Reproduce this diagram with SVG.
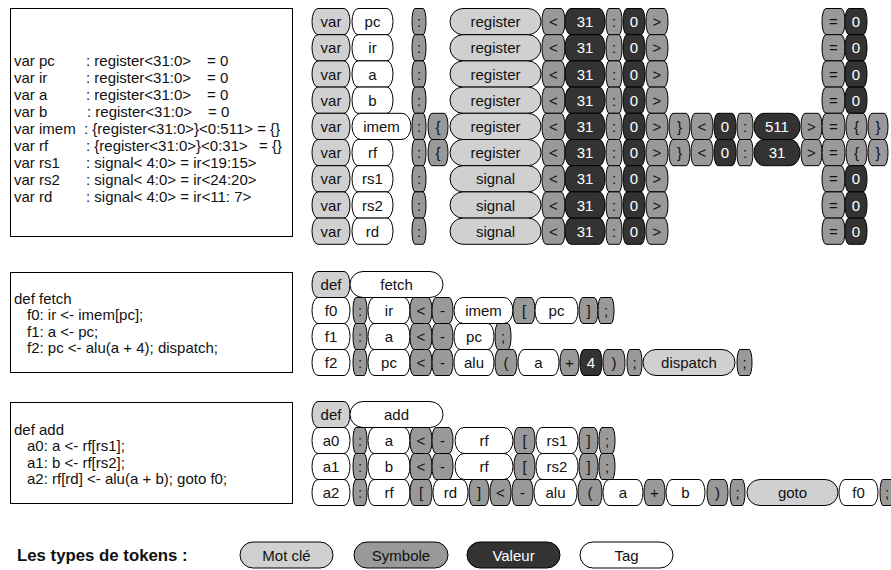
<svg xmlns="http://www.w3.org/2000/svg" width="891" height="570" viewBox="0 0 891 570">
<style>
rect{stroke:#000;stroke-width:1}
.box{fill:#fff}
.k{fill:#d0d0d0}
.s{fill:#999}
.v{fill:#333}
.t{fill:#fff}
text{font-family:"Liberation Sans",Arial,sans-serif;font-size:15px;fill:#111}
.c{text-anchor:middle;dominant-baseline:central}
.w{fill:#fff}
.code{dominant-baseline:central}
.lg{font-weight:bold;font-size:16.8px}
</style>
<g id="box-vars">
<rect class="box" x="10.5" y="8.5" width="282" height="228"/>
<g class="code">
<text class="code" x="14" y="60">var pc</text><text class="code" x="86" y="60">: register&lt;31:0&gt;</text><text class="code" x="207" y="60">= 0</text>
<text class="code" x="14" y="77">var ir</text><text class="code" x="86" y="77">: register&lt;31:0&gt;</text><text class="code" x="207" y="77">= 0</text>
<text class="code" x="14" y="94">var a</text><text class="code" x="86" y="94">: register&lt;31:0&gt;</text><text class="code" x="207" y="94">= 0</text>
<text class="code" x="14" y="111">var b</text><text class="code" x="87" y="111">: register&lt;31:0&gt;</text><text class="code" x="208" y="111">= 0</text>
<text class="code" x="14" y="128">var imem</text><text class="code" x="84" y="128">: {register&lt;31:0&gt;}&lt;0:511&gt; = {}</text>
<text class="code" x="14" y="145">var rf</text><text class="code" x="86" y="145">: {register&lt;31:0&gt;}&lt;0:31&gt;</text><text class="code" x="259" y="145">= {}</text>
<text class="code" x="14" y="162">var rs1</text><text class="code" x="86" y="162">: signal&lt; 4:0&gt; = ir&lt;19:15&gt;</text>
<text class="code" x="14" y="179">var rs2</text><text class="code" x="86" y="179">: signal&lt; 4:0&gt; = ir&lt;24:20&gt;</text>
<text class="code" x="14" y="196">var rd</text><text class="code" x="86" y="196">: signal&lt; 4:0&gt; = ir&lt;11: 7&gt;</text>
</g>
</g>
<g id="box-fetch">
<rect class="box" x="10.5" y="272.5" width="282" height="100"/>
<text class="code" x="14" y="298">def fetch</text>
<text class="code" x="27" y="314.5">f0: ir &lt;- imem[pc];</text>
<text class="code" x="27" y="331">f1: a &lt;- pc;</text>
<text class="code" x="27" y="347.5">f2: pc &lt;- alu(a + 4); dispatch;</text>
</g>
<g id="box-add">
<rect class="box" x="10.5" y="402.5" width="282" height="101"/>
<text class="code" x="14" y="429">def add</text>
<text class="code" x="27" y="445.5">a0: a &lt;- rf[rs1];</text>
<text class="code" x="27" y="462">a1: b &lt;- rf[rs2];</text>
<text class="code" x="27" y="478.5">a2: rf[rd] &lt;- alu(a + b); goto f0;</text>
</g>

<!-- var rows -->
<g id="vr0">
<g id="vr0-var"><rect class="k" x="312" y="8.5" width="38" height="26.2" rx="6" ry="13.1"/><text class="c" x="331" y="21.6">var</text></g>
<g id="vr0-pc"><rect class="t" x="352" y="8.5" width="41" height="26.2" rx="6" ry="13.1"/><text class="c" x="372.5" y="21.6">pc</text></g>
<g id="vr0-colon"><rect class="s" x="412" y="8.5" width="14" height="26.2" rx="3" ry="13.1"/><text class="c" x="419" y="21.6">:</text></g>
<g id="vr0-register"><rect class="k" x="450" y="8.5" width="91" height="26.2" rx="13" ry="13.1"/><text class="c" x="495.5" y="21.6">register</text></g>
<g id="vr0-lt"><rect class="s" x="542" y="8.5" width="23" height="26.2" rx="4" ry="13.1"/><text class="c" x="553.5" y="21.6">&lt;</text></g>
<g id="vr0-31"><rect class="v" x="565" y="8.5" width="40" height="26.2" rx="6" ry="13.1"/><text class="c w" x="585" y="21.6">31</text></g>
<g id="vr0-colon2"><rect class="s" x="606" y="8.5" width="16" height="26.2" rx="3" ry="13.1"/><text class="c" x="614" y="21.6">:</text></g>
<g id="vr0-0"><rect class="v" x="623" y="8.5" width="22" height="26.2" rx="4" ry="13.1"/><text class="c w" x="634" y="21.6">0</text></g>
<g id="vr0-gt"><rect class="s" x="646" y="8.5" width="22" height="26.2" rx="4" ry="13.1"/><text class="c" x="657" y="21.6">&gt;</text></g>
<g id="vr0-eq"><rect class="s" x="822" y="8.5" width="23" height="26.2" rx="4" ry="13.1"/><text class="c" x="833.5" y="21.6">=</text></g>
<g id="vr0-init"><rect class="v" x="845" y="8.5" width="22" height="26.2" rx="4" ry="13.1"/><text class="c w" x="856" y="21.6">0</text></g>
</g>
<g id="vr1">
<g id="vr1-var"><rect class="k" x="312" y="34.7" width="38" height="26.2" rx="6" ry="13.1"/><text class="c" x="331" y="47.8">var</text></g>
<g id="vr1-ir"><rect class="t" x="352" y="34.7" width="41" height="26.2" rx="6" ry="13.1"/><text class="c" x="372.5" y="47.8">ir</text></g>
<g id="vr1-colon"><rect class="s" x="412" y="34.7" width="14" height="26.2" rx="3" ry="13.1"/><text class="c" x="419" y="47.8">:</text></g>
<g id="vr1-register"><rect class="k" x="450" y="34.7" width="91" height="26.2" rx="13" ry="13.1"/><text class="c" x="495.5" y="47.8">register</text></g>
<g id="vr1-lt"><rect class="s" x="542" y="34.7" width="23" height="26.2" rx="4" ry="13.1"/><text class="c" x="553.5" y="47.8">&lt;</text></g>
<g id="vr1-31"><rect class="v" x="565" y="34.7" width="40" height="26.2" rx="6" ry="13.1"/><text class="c w" x="585" y="47.8">31</text></g>
<g id="vr1-colon2"><rect class="s" x="606" y="34.7" width="16" height="26.2" rx="3" ry="13.1"/><text class="c" x="614" y="47.8">:</text></g>
<g id="vr1-0"><rect class="v" x="623" y="34.7" width="22" height="26.2" rx="4" ry="13.1"/><text class="c w" x="634" y="47.8">0</text></g>
<g id="vr1-gt"><rect class="s" x="646" y="34.7" width="22" height="26.2" rx="4" ry="13.1"/><text class="c" x="657" y="47.8">&gt;</text></g>
<g id="vr1-eq"><rect class="s" x="822" y="34.7" width="23" height="26.2" rx="4" ry="13.1"/><text class="c" x="833.5" y="47.8">=</text></g>
<g id="vr1-init"><rect class="v" x="845" y="34.7" width="22" height="26.2" rx="4" ry="13.1"/><text class="c w" x="856" y="47.8">0</text></g>
</g>
<g id="vr2">
<g id="vr2-var"><rect class="k" x="312" y="60.9" width="38" height="26.2" rx="6" ry="13.1"/><text class="c" x="331" y="74">var</text></g>
<g id="vr2-a"><rect class="t" x="352" y="60.9" width="41" height="26.2" rx="6" ry="13.1"/><text class="c" x="372.5" y="74">a</text></g>
<g id="vr2-colon"><rect class="s" x="412" y="60.9" width="14" height="26.2" rx="3" ry="13.1"/><text class="c" x="419" y="74">:</text></g>
<g id="vr2-register"><rect class="k" x="450" y="60.9" width="91" height="26.2" rx="13" ry="13.1"/><text class="c" x="495.5" y="74">register</text></g>
<g id="vr2-lt"><rect class="s" x="542" y="60.9" width="23" height="26.2" rx="4" ry="13.1"/><text class="c" x="553.5" y="74">&lt;</text></g>
<g id="vr2-31"><rect class="v" x="565" y="60.9" width="40" height="26.2" rx="6" ry="13.1"/><text class="c w" x="585" y="74">31</text></g>
<g id="vr2-colon2"><rect class="s" x="606" y="60.9" width="16" height="26.2" rx="3" ry="13.1"/><text class="c" x="614" y="74">:</text></g>
<g id="vr2-0"><rect class="v" x="623" y="60.9" width="22" height="26.2" rx="4" ry="13.1"/><text class="c w" x="634" y="74">0</text></g>
<g id="vr2-gt"><rect class="s" x="646" y="60.9" width="22" height="26.2" rx="4" ry="13.1"/><text class="c" x="657" y="74">&gt;</text></g>
<g id="vr2-eq"><rect class="s" x="822" y="60.9" width="23" height="26.2" rx="4" ry="13.1"/><text class="c" x="833.5" y="74">=</text></g>
<g id="vr2-init"><rect class="v" x="845" y="60.9" width="22" height="26.2" rx="4" ry="13.1"/><text class="c w" x="856" y="74">0</text></g>
</g>
<g id="vr3">
<g id="vr3-var"><rect class="k" x="312" y="87.1" width="38" height="26.2" rx="6" ry="13.1"/><text class="c" x="331" y="100.2">var</text></g>
<g id="vr3-b"><rect class="t" x="352" y="87.1" width="41" height="26.2" rx="6" ry="13.1"/><text class="c" x="372.5" y="100.2">b</text></g>
<g id="vr3-colon"><rect class="s" x="412" y="87.1" width="14" height="26.2" rx="3" ry="13.1"/><text class="c" x="419" y="100.2">:</text></g>
<g id="vr3-register"><rect class="k" x="450" y="87.1" width="91" height="26.2" rx="13" ry="13.1"/><text class="c" x="495.5" y="100.2">register</text></g>
<g id="vr3-lt"><rect class="s" x="542" y="87.1" width="23" height="26.2" rx="4" ry="13.1"/><text class="c" x="553.5" y="100.2">&lt;</text></g>
<g id="vr3-31"><rect class="v" x="565" y="87.1" width="40" height="26.2" rx="6" ry="13.1"/><text class="c w" x="585" y="100.2">31</text></g>
<g id="vr3-colon2"><rect class="s" x="606" y="87.1" width="16" height="26.2" rx="3" ry="13.1"/><text class="c" x="614" y="100.2">:</text></g>
<g id="vr3-0"><rect class="v" x="623" y="87.1" width="22" height="26.2" rx="4" ry="13.1"/><text class="c w" x="634" y="100.2">0</text></g>
<g id="vr3-gt"><rect class="s" x="646" y="87.1" width="22" height="26.2" rx="4" ry="13.1"/><text class="c" x="657" y="100.2">&gt;</text></g>
<g id="vr3-eq"><rect class="s" x="822" y="87.1" width="23" height="26.2" rx="4" ry="13.1"/><text class="c" x="833.5" y="100.2">=</text></g>
<g id="vr3-init"><rect class="v" x="845" y="87.1" width="22" height="26.2" rx="4" ry="13.1"/><text class="c w" x="856" y="100.2">0</text></g>
</g>
<g id="vr4">
<g id="vr4-var"><rect class="k" x="312" y="113.3" width="38" height="26.2" rx="6" ry="13.1"/><text class="c" x="331" y="126.4">var</text></g>
<g id="vr4-imem"><rect class="t" x="352" y="113.3" width="59" height="26.2" rx="9" ry="13.1"/><text class="c" x="381.5" y="126.4">imem</text></g>
<g id="vr4-colon"><rect class="s" x="412" y="113.3" width="14" height="26.2" rx="3" ry="13.1"/><text class="c" x="419" y="126.4">:</text></g>
<g id="vr4-lbrace"><rect class="s" x="428" y="113.3" width="20" height="26.2" rx="4" ry="13.1"/><text class="c" x="438" y="126.4">{</text></g>
<g id="vr4-register"><rect class="k" x="450" y="113.3" width="91" height="26.2" rx="13" ry="13.1"/><text class="c" x="495.5" y="126.4">register</text></g>
<g id="vr4-lt"><rect class="s" x="542" y="113.3" width="23" height="26.2" rx="4" ry="13.1"/><text class="c" x="553.5" y="126.4">&lt;</text></g>
<g id="vr4-31"><rect class="v" x="565" y="113.3" width="40" height="26.2" rx="6" ry="13.1"/><text class="c w" x="585" y="126.4">31</text></g>
<g id="vr4-colon2"><rect class="s" x="606" y="113.3" width="16" height="26.2" rx="3" ry="13.1"/><text class="c" x="614" y="126.4">:</text></g>
<g id="vr4-0"><rect class="v" x="623" y="113.3" width="22" height="26.2" rx="4" ry="13.1"/><text class="c w" x="634" y="126.4">0</text></g>
<g id="vr4-gt"><rect class="s" x="646" y="113.3" width="22" height="26.2" rx="4" ry="13.1"/><text class="c" x="657" y="126.4">&gt;</text></g>
<g id="vr4-rbrace"><rect class="s" x="669" y="113.3" width="21" height="26.2" rx="4" ry="13.1"/><text class="c" x="679.5" y="126.4">}</text></g>
<g id="vr4-lt2"><rect class="s" x="691" y="113.3" width="22" height="26.2" rx="4" ry="13.1"/><text class="c" x="702" y="126.4">&lt;</text></g>
<g id="vr4-lo"><rect class="v" x="714" y="113.3" width="22" height="26.2" rx="4" ry="13.1"/><text class="c w" x="725" y="126.4">0</text></g>
<g id="vr4-colon3"><rect class="s" x="737" y="113.3" width="16" height="26.2" rx="3" ry="13.1"/><text class="c" x="745" y="126.4">:</text></g>
<g id="vr4-511"><rect class="v" x="754" y="113.3" width="46" height="26.2" rx="10" ry="13.1"/><text class="c w" x="777" y="126.4">511</text></g>
<g id="vr4-gt2"><rect class="s" x="801" y="113.3" width="21" height="26.2" rx="4" ry="13.1"/><text class="c" x="811.5" y="126.4">&gt;</text></g>
<g id="vr4-eq"><rect class="s" x="822" y="113.3" width="23" height="26.2" rx="4" ry="13.1"/><text class="c" x="833.5" y="126.4">=</text></g>
<g id="vr4-lb2"><rect class="s" x="846" y="113.3" width="21" height="26.2" rx="4" ry="13.1"/><text class="c" x="856.5" y="126.4">{</text></g>
<g id="vr4-rb2"><rect class="s" x="868" y="113.3" width="20" height="26.2" rx="4" ry="13.1"/><text class="c" x="878" y="126.4">}</text></g>
</g>
<g id="vr5">
<g id="vr5-var"><rect class="k" x="312" y="139.5" width="38" height="26.2" rx="6" ry="13.1"/><text class="c" x="331" y="152.6">var</text></g>
<g id="vr5-rf"><rect class="t" x="352" y="139.5" width="41" height="26.2" rx="6" ry="13.1"/><text class="c" x="372.5" y="152.6">rf</text></g>
<g id="vr5-colon"><rect class="s" x="412" y="139.5" width="14" height="26.2" rx="3" ry="13.1"/><text class="c" x="419" y="152.6">:</text></g>
<g id="vr5-lbrace"><rect class="s" x="428" y="139.5" width="20" height="26.2" rx="4" ry="13.1"/><text class="c" x="438" y="152.6">{</text></g>
<g id="vr5-register"><rect class="k" x="450" y="139.5" width="91" height="26.2" rx="13" ry="13.1"/><text class="c" x="495.5" y="152.6">register</text></g>
<g id="vr5-lt"><rect class="s" x="542" y="139.5" width="23" height="26.2" rx="4" ry="13.1"/><text class="c" x="553.5" y="152.6">&lt;</text></g>
<g id="vr5-31"><rect class="v" x="565" y="139.5" width="40" height="26.2" rx="6" ry="13.1"/><text class="c w" x="585" y="152.6">31</text></g>
<g id="vr5-colon2"><rect class="s" x="606" y="139.5" width="16" height="26.2" rx="3" ry="13.1"/><text class="c" x="614" y="152.6">:</text></g>
<g id="vr5-0"><rect class="v" x="623" y="139.5" width="22" height="26.2" rx="4" ry="13.1"/><text class="c w" x="634" y="152.6">0</text></g>
<g id="vr5-gt"><rect class="s" x="646" y="139.5" width="22" height="26.2" rx="4" ry="13.1"/><text class="c" x="657" y="152.6">&gt;</text></g>
<g id="vr5-rbrace"><rect class="s" x="669" y="139.5" width="21" height="26.2" rx="4" ry="13.1"/><text class="c" x="679.5" y="152.6">}</text></g>
<g id="vr5-lt2"><rect class="s" x="691" y="139.5" width="22" height="26.2" rx="4" ry="13.1"/><text class="c" x="702" y="152.6">&lt;</text></g>
<g id="vr5-lo"><rect class="v" x="714" y="139.5" width="22" height="26.2" rx="4" ry="13.1"/><text class="c w" x="725" y="152.6">0</text></g>
<g id="vr5-colon3"><rect class="s" x="737" y="139.5" width="16" height="26.2" rx="3" ry="13.1"/><text class="c" x="745" y="152.6">:</text></g>
<g id="vr5-hi"><rect class="v" x="754" y="139.5" width="46" height="26.2" rx="10" ry="13.1"/><text class="c w" x="777" y="152.6">31</text></g>
<g id="vr5-gt2"><rect class="s" x="801" y="139.5" width="21" height="26.2" rx="4" ry="13.1"/><text class="c" x="811.5" y="152.6">&gt;</text></g>
<g id="vr5-eq"><rect class="s" x="822" y="139.5" width="23" height="26.2" rx="4" ry="13.1"/><text class="c" x="833.5" y="152.6">=</text></g>
<g id="vr5-lb2"><rect class="s" x="846" y="139.5" width="21" height="26.2" rx="4" ry="13.1"/><text class="c" x="856.5" y="152.6">{</text></g>
<g id="vr5-rb2"><rect class="s" x="868" y="139.5" width="20" height="26.2" rx="4" ry="13.1"/><text class="c" x="878" y="152.6">}</text></g>
</g>
<g id="vr6">
<g id="vr6-var"><rect class="k" x="312" y="165.7" width="38" height="26.2" rx="6" ry="13.1"/><text class="c" x="331" y="178.8">var</text></g>
<g id="vr6-rs1"><rect class="t" x="352" y="165.7" width="41" height="26.2" rx="6" ry="13.1"/><text class="c" x="372.5" y="178.8">rs1</text></g>
<g id="vr6-colon"><rect class="s" x="412" y="165.7" width="14" height="26.2" rx="3" ry="13.1"/><text class="c" x="419" y="178.8">:</text></g>
<g id="vr6-signal"><rect class="k" x="450" y="165.7" width="91" height="26.2" rx="13" ry="13.1"/><text class="c" x="495.5" y="178.8">signal</text></g>
<g id="vr6-lt"><rect class="s" x="542" y="165.7" width="23" height="26.2" rx="4" ry="13.1"/><text class="c" x="553.5" y="178.8">&lt;</text></g>
<g id="vr6-31"><rect class="v" x="565" y="165.7" width="40" height="26.2" rx="6" ry="13.1"/><text class="c w" x="585" y="178.8">31</text></g>
<g id="vr6-colon2"><rect class="s" x="606" y="165.7" width="16" height="26.2" rx="3" ry="13.1"/><text class="c" x="614" y="178.8">:</text></g>
<g id="vr6-0"><rect class="v" x="623" y="165.7" width="22" height="26.2" rx="4" ry="13.1"/><text class="c w" x="634" y="178.8">0</text></g>
<g id="vr6-gt"><rect class="s" x="646" y="165.7" width="22" height="26.2" rx="4" ry="13.1"/><text class="c" x="657" y="178.8">&gt;</text></g>
<g id="vr6-eq"><rect class="s" x="822" y="165.7" width="23" height="26.2" rx="4" ry="13.1"/><text class="c" x="833.5" y="178.8">=</text></g>
<g id="vr6-init"><rect class="v" x="845" y="165.7" width="22" height="26.2" rx="4" ry="13.1"/><text class="c w" x="856" y="178.8">0</text></g>
</g>
<g id="vr7">
<g id="vr7-var"><rect class="k" x="312" y="191.9" width="38" height="26.2" rx="6" ry="13.1"/><text class="c" x="331" y="205">var</text></g>
<g id="vr7-rs2"><rect class="t" x="352" y="191.9" width="41" height="26.2" rx="6" ry="13.1"/><text class="c" x="372.5" y="205">rs2</text></g>
<g id="vr7-colon"><rect class="s" x="412" y="191.9" width="14" height="26.2" rx="3" ry="13.1"/><text class="c" x="419" y="205">:</text></g>
<g id="vr7-signal"><rect class="k" x="450" y="191.9" width="91" height="26.2" rx="13" ry="13.1"/><text class="c" x="495.5" y="205">signal</text></g>
<g id="vr7-lt"><rect class="s" x="542" y="191.9" width="23" height="26.2" rx="4" ry="13.1"/><text class="c" x="553.5" y="205">&lt;</text></g>
<g id="vr7-31"><rect class="v" x="565" y="191.9" width="40" height="26.2" rx="6" ry="13.1"/><text class="c w" x="585" y="205">31</text></g>
<g id="vr7-colon2"><rect class="s" x="606" y="191.9" width="16" height="26.2" rx="3" ry="13.1"/><text class="c" x="614" y="205">:</text></g>
<g id="vr7-0"><rect class="v" x="623" y="191.9" width="22" height="26.2" rx="4" ry="13.1"/><text class="c w" x="634" y="205">0</text></g>
<g id="vr7-gt"><rect class="s" x="646" y="191.9" width="22" height="26.2" rx="4" ry="13.1"/><text class="c" x="657" y="205">&gt;</text></g>
<g id="vr7-eq"><rect class="s" x="822" y="191.9" width="23" height="26.2" rx="4" ry="13.1"/><text class="c" x="833.5" y="205">=</text></g>
<g id="vr7-init"><rect class="v" x="845" y="191.9" width="22" height="26.2" rx="4" ry="13.1"/><text class="c w" x="856" y="205">0</text></g>
</g>
<g id="vr8">
<g id="vr8-var"><rect class="k" x="312" y="218.1" width="38" height="26.2" rx="6" ry="13.1"/><text class="c" x="331" y="231.2">var</text></g>
<g id="vr8-rd"><rect class="t" x="352" y="218.1" width="41" height="26.2" rx="6" ry="13.1"/><text class="c" x="372.5" y="231.2">rd</text></g>
<g id="vr8-colon"><rect class="s" x="412" y="218.1" width="14" height="26.2" rx="3" ry="13.1"/><text class="c" x="419" y="231.2">:</text></g>
<g id="vr8-signal"><rect class="k" x="450" y="218.1" width="91" height="26.2" rx="13" ry="13.1"/><text class="c" x="495.5" y="231.2">signal</text></g>
<g id="vr8-lt"><rect class="s" x="542" y="218.1" width="23" height="26.2" rx="4" ry="13.1"/><text class="c" x="553.5" y="231.2">&lt;</text></g>
<g id="vr8-31"><rect class="v" x="565" y="218.1" width="40" height="26.2" rx="6" ry="13.1"/><text class="c w" x="585" y="231.2">31</text></g>
<g id="vr8-colon2"><rect class="s" x="606" y="218.1" width="16" height="26.2" rx="3" ry="13.1"/><text class="c" x="614" y="231.2">:</text></g>
<g id="vr8-0"><rect class="v" x="623" y="218.1" width="22" height="26.2" rx="4" ry="13.1"/><text class="c w" x="634" y="231.2">0</text></g>
<g id="vr8-gt"><rect class="s" x="646" y="218.1" width="22" height="26.2" rx="4" ry="13.1"/><text class="c" x="657" y="231.2">&gt;</text></g>
<g id="vr8-eq"><rect class="s" x="822" y="218.1" width="23" height="26.2" rx="4" ry="13.1"/><text class="c" x="833.5" y="231.2">=</text></g>
<g id="vr8-init"><rect class="v" x="845" y="218.1" width="22" height="26.2" rx="4" ry="13.1"/><text class="c w" x="856" y="231.2">0</text></g>
</g>

<!-- fetch -->
<g id="fr0">
<g id="fr0-def"><rect class="k" x="312" y="271.5" width="38" height="26" rx="6" ry="13"/><text class="c" x="331" y="284.5">def</text></g>
<g id="fr0-fetch"><rect class="t" x="350" y="271.5" width="93" height="26" rx="13" ry="13"/><text class="c" x="396.5" y="284.5">fetch</text></g>
</g>
<g id="fr1">
<g id="fr1-f0"><rect class="t" x="312" y="297.5" width="38" height="26" rx="6" ry="13"/><text class="c" x="331" y="310.5">f0</text></g>
<g id="fr1-colon"><rect class="s" x="353" y="297.5" width="14" height="26" rx="3" ry="13"/><text class="c" x="360" y="310.5">:</text></g>
<g id="fr1-ir"><rect class="t" x="368" y="297.5" width="42" height="26" rx="6" ry="13"/><text class="c" x="389" y="310.5">ir</text></g>
<g id="fr1-lt"><rect class="s" x="410" y="297.5" width="22" height="26" rx="4" ry="13"/><text class="c" x="421" y="310.5">&lt;</text></g>
<g id="fr1-minus"><rect class="s" x="432" y="297.5" width="21" height="26" rx="4" ry="13"/><text class="c" x="442.5" y="310.5">-</text></g>
<g id="fr1-imem"><rect class="t" x="454" y="297.5" width="59" height="26" rx="9" ry="13"/><text class="c" x="483.5" y="310.5">imem</text></g>
<g id="fr1-lbr"><rect class="s" x="513" y="297.5" width="22" height="26" rx="4" ry="13"/><text class="c" x="524" y="310.5">[</text></g>
<g id="fr1-pc"><rect class="t" x="535" y="297.5" width="43" height="26" rx="6" ry="13"/><text class="c" x="556.5" y="310.5">pc</text></g>
<g id="fr1-rbr"><rect class="s" x="579" y="297.5" width="19" height="26" rx="4" ry="13"/><text class="c" x="588.5" y="310.5">]</text></g>
<g id="fr1-semi"><rect class="s" x="598" y="297.5" width="16" height="26" rx="3" ry="13"/><text class="c" x="606" y="310.5">;</text></g>
</g>
<g id="fr2">
<g id="fr2-f1"><rect class="t" x="312" y="323.5" width="38" height="26" rx="6" ry="13"/><text class="c" x="331" y="336.5">f1</text></g>
<g id="fr2-colon"><rect class="s" x="353" y="323.5" width="14" height="26" rx="3" ry="13"/><text class="c" x="360" y="336.5">:</text></g>
<g id="fr2-a"><rect class="t" x="368" y="323.5" width="42" height="26" rx="6" ry="13"/><text class="c" x="389" y="336.5">a</text></g>
<g id="fr2-lt"><rect class="s" x="410" y="323.5" width="22" height="26" rx="4" ry="13"/><text class="c" x="421" y="336.5">&lt;</text></g>
<g id="fr2-minus"><rect class="s" x="432" y="323.5" width="21" height="26" rx="4" ry="13"/><text class="c" x="442.5" y="336.5">-</text></g>
<g id="fr2-pc"><rect class="t" x="454" y="323.5" width="40" height="26" rx="6" ry="13"/><text class="c" x="474" y="336.5">pc</text></g>
<g id="fr2-semi"><rect class="s" x="495" y="323.5" width="16" height="26" rx="3" ry="13"/><text class="c" x="503" y="336.5">;</text></g>
</g>
<g id="fr3">
<g id="fr3-f2"><rect class="t" x="312" y="349.5" width="38" height="26" rx="6" ry="13"/><text class="c" x="331" y="362.5">f2</text></g>
<g id="fr3-colon"><rect class="s" x="353" y="349.5" width="14" height="26" rx="3" ry="13"/><text class="c" x="360" y="362.5">:</text></g>
<g id="fr3-pc"><rect class="t" x="368" y="349.5" width="42" height="26" rx="6" ry="13"/><text class="c" x="389" y="362.5">pc</text></g>
<g id="fr3-lt"><rect class="s" x="410" y="349.5" width="22" height="26" rx="4" ry="13"/><text class="c" x="421" y="362.5">&lt;</text></g>
<g id="fr3-minus"><rect class="s" x="432" y="349.5" width="21" height="26" rx="4" ry="13"/><text class="c" x="442.5" y="362.5">-</text></g>
<g id="fr3-alu"><rect class="t" x="454" y="349.5" width="40" height="26" rx="6" ry="13"/><text class="c" x="474" y="362.5">alu</text></g>
<g id="fr3-lp"><rect class="s" x="495" y="349.5" width="22" height="26" rx="4" ry="13"/><text class="c" x="506" y="362.5">(</text></g>
<g id="fr3-a"><rect class="t" x="518" y="349.5" width="41" height="26" rx="6" ry="13"/><text class="c" x="538.5" y="362.5">a</text></g>
<g id="fr3-plus"><rect class="s" x="560" y="349.5" width="19" height="26" rx="4" ry="13"/><text class="c" x="569.5" y="362.5">+</text></g>
<g id="fr3-4"><rect class="v" x="580" y="349.5" width="22" height="26" rx="4" ry="13"/><text class="c w" x="591" y="362.5">4</text></g>
<g id="fr3-rp"><rect class="s" x="603" y="349.5" width="22" height="26" rx="4" ry="13"/><text class="c" x="614" y="362.5">)</text></g>
<g id="fr3-semi"><rect class="s" x="627" y="349.5" width="15" height="26" rx="3" ry="13"/><text class="c" x="634.5" y="362.5">;</text></g>
<g id="fr3-dispatch"><rect class="k" x="643" y="349.5" width="92" height="26" rx="13" ry="13"/><text class="c" x="689" y="362.5">dispatch</text></g>
<g id="fr3-semi2"><rect class="s" x="737" y="349.5" width="15" height="26" rx="3" ry="13"/><text class="c" x="744.5" y="362.5">;</text></g>
</g>

<!-- add -->
<g id="ar0">
<g id="ar0-def"><rect class="k" x="312" y="401.5" width="38" height="26" rx="6" ry="13"/><text class="c" x="331" y="414.5">def</text></g>
<g id="ar0-add"><rect class="t" x="350" y="401.5" width="93" height="26" rx="13" ry="13"/><text class="c" x="396.5" y="414.5">add</text></g>
</g>
<g id="ar1">
<g id="ar1-a0"><rect class="t" x="312" y="427.5" width="38" height="26" rx="6" ry="13"/><text class="c" x="331" y="440.5">a0</text></g>
<g id="ar1-colon"><rect class="s" x="353" y="427.5" width="14" height="26" rx="3" ry="13"/><text class="c" x="360" y="440.5">:</text></g>
<g id="ar1-a"><rect class="t" x="368" y="427.5" width="42" height="26" rx="6" ry="13"/><text class="c" x="389" y="440.5">a</text></g>
<g id="ar1-lt"><rect class="s" x="410" y="427.5" width="22" height="26" rx="4" ry="13"/><text class="c" x="421" y="440.5">&lt;</text></g>
<g id="ar1-minus"><rect class="s" x="432" y="427.5" width="21" height="26" rx="4" ry="13"/><text class="c" x="442.5" y="440.5">-</text></g>
<g id="ar1-rf"><rect class="t" x="455" y="427.5" width="58" height="26" rx="9" ry="13"/><text class="c" x="484" y="440.5">rf</text></g>
<g id="ar1-lbr"><rect class="s" x="514" y="427.5" width="21" height="26" rx="4" ry="13"/><text class="c" x="524.5" y="440.5">[</text></g>
<g id="ar1-rs1"><rect class="t" x="536" y="427.5" width="42" height="26" rx="6" ry="13"/><text class="c" x="557" y="440.5">rs1</text></g>
<g id="ar1-rbr"><rect class="s" x="579" y="427.5" width="19" height="26" rx="4" ry="13"/><text class="c" x="588.5" y="440.5">]</text></g>
<g id="ar1-semi"><rect class="s" x="599" y="427.5" width="16" height="26" rx="3" ry="13"/><text class="c" x="607" y="440.5">;</text></g>
</g>
<g id="ar2">
<g id="ar2-a1"><rect class="t" x="312" y="453.5" width="38" height="26" rx="6" ry="13"/><text class="c" x="331" y="466.5">a1</text></g>
<g id="ar2-colon"><rect class="s" x="353" y="453.5" width="14" height="26" rx="3" ry="13"/><text class="c" x="360" y="466.5">:</text></g>
<g id="ar2-b"><rect class="t" x="368" y="453.5" width="42" height="26" rx="6" ry="13"/><text class="c" x="389" y="466.5">b</text></g>
<g id="ar2-lt"><rect class="s" x="410" y="453.5" width="22" height="26" rx="4" ry="13"/><text class="c" x="421" y="466.5">&lt;</text></g>
<g id="ar2-minus"><rect class="s" x="432" y="453.5" width="21" height="26" rx="4" ry="13"/><text class="c" x="442.5" y="466.5">-</text></g>
<g id="ar2-rf"><rect class="t" x="455" y="453.5" width="58" height="26" rx="9" ry="13"/><text class="c" x="484" y="466.5">rf</text></g>
<g id="ar2-lbr"><rect class="s" x="514" y="453.5" width="21" height="26" rx="4" ry="13"/><text class="c" x="524.5" y="466.5">[</text></g>
<g id="ar2-rs2"><rect class="t" x="536" y="453.5" width="42" height="26" rx="6" ry="13"/><text class="c" x="557" y="466.5">rs2</text></g>
<g id="ar2-rbr"><rect class="s" x="579" y="453.5" width="19" height="26" rx="4" ry="13"/><text class="c" x="588.5" y="466.5">]</text></g>
<g id="ar2-semi"><rect class="s" x="599" y="453.5" width="16" height="26" rx="3" ry="13"/><text class="c" x="607" y="466.5">;</text></g>
</g>
<g id="ar3">
<g id="ar3-a2"><rect class="t" x="312" y="479.5" width="38" height="26" rx="6" ry="13"/><text class="c" x="331" y="492.5">a2</text></g>
<g id="ar3-colon"><rect class="s" x="353" y="479.5" width="14" height="26" rx="3" ry="13"/><text class="c" x="360" y="492.5">:</text></g>
<g id="ar3-rf"><rect class="t" x="368" y="479.5" width="42" height="26" rx="6" ry="13"/><text class="c" x="389" y="492.5">rf</text></g>
<g id="ar3-lbr"><rect class="s" x="410" y="479.5" width="22" height="26" rx="4" ry="13"/><text class="c" x="421" y="492.5">[</text></g>
<g id="ar3-rd"><rect class="t" x="433" y="479.5" width="35" height="26" rx="6" ry="13"/><text class="c" x="450.5" y="492.5">rd</text></g>
<g id="ar3-rbr"><rect class="s" x="469" y="479.5" width="20" height="26" rx="4" ry="13"/><text class="c" x="479" y="492.5">]</text></g>
<g id="ar3-lt"><rect class="s" x="490" y="479.5" width="21" height="26" rx="4" ry="13"/><text class="c" x="500.5" y="492.5">&lt;</text></g>
<g id="ar3-minus"><rect class="s" x="512" y="479.5" width="21" height="26" rx="4" ry="13"/><text class="c" x="522.5" y="492.5">-</text></g>
<g id="ar3-alu"><rect class="t" x="534" y="479.5" width="43" height="26" rx="6" ry="13"/><text class="c" x="555.5" y="492.5">alu</text></g>
<g id="ar3-lp"><rect class="s" x="578" y="479.5" width="24" height="26" rx="4" ry="13"/><text class="c" x="590" y="492.5">(</text></g>
<g id="ar3-a"><rect class="t" x="603" y="479.5" width="40" height="26" rx="6" ry="13"/><text class="c" x="623" y="492.5">a</text></g>
<g id="ar3-plus"><rect class="s" x="644" y="479.5" width="21" height="26" rx="4" ry="13"/><text class="c" x="654.5" y="492.5">+</text></g>
<g id="ar3-b"><rect class="t" x="666" y="479.5" width="39" height="26" rx="6" ry="13"/><text class="c" x="685.5" y="492.5">b</text></g>
<g id="ar3-rp"><rect class="s" x="707" y="479.5" width="21" height="26" rx="4" ry="13"/><text class="c" x="717.5" y="492.5">)</text></g>
<g id="ar3-semi"><rect class="s" x="730" y="479.5" width="15" height="26" rx="3" ry="13"/><text class="c" x="737.5" y="492.5">;</text></g>
<g id="ar3-goto"><rect class="k" x="747" y="479.5" width="91" height="26" rx="13" ry="13"/><text class="c" x="792.5" y="492.5">goto</text></g>
<g id="ar3-f0"><rect class="t" x="839" y="479.5" width="39" height="26" rx="6" ry="13"/><text class="c" x="858.5" y="492.5">f0</text></g>
<g id="ar3-semi2"><rect class="s" x="880" y="479.5" width="14" height="26" rx="3" ry="13"/><text class="c" x="887" y="492.5">;</text></g>
</g>

<!-- legend -->
<g id="legend">
<text class="lg code" x="17" y="555">Les types de tokens :</text>
<g id="lg-kw"><rect class="k" x="240" y="542" width="93" height="26" rx="13" ry="13"/><text class="c" x="286.5" y="555">Mot clé</text></g>
<g id="lg-sym"><rect class="s" x="354" y="542" width="94" height="26" rx="13" ry="13"/><text class="c" x="401" y="555">Symbole</text></g>
<g id="lg-val"><rect class="v" x="467" y="542" width="93" height="26" rx="13" ry="13"/><text class="c w" x="513.5" y="555">Valeur</text></g>
<g id="lg-tag"><rect class="t" x="580" y="542" width="93" height="26" rx="13" ry="13"/><text class="c" x="626.5" y="555">Tag</text></g>
</g>
</svg>
